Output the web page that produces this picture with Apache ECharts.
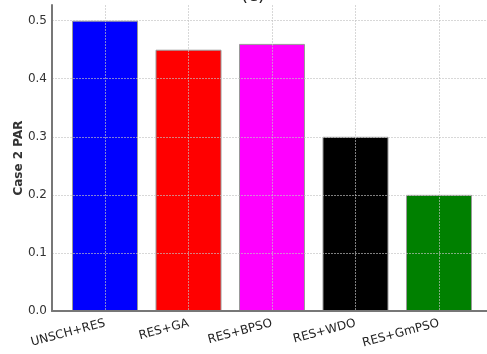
<!DOCTYPE html>
<html>
<head>
<meta charset="utf-8">
<script src="https://cdn.jsdelivr.net/npm/echarts@6/dist/echarts.min.js"></script>
<style>
html,body{margin:0;padding:0;background:#fff;}
#chart{width:487px;height:354px;}
</style>
</head>
<body>
<div id="chart"></div>
<script>
var categories = ['UNSCH+RES', 'RES+GA', 'RES+BPSO', 'RES+WDO', 'RES+GmPSO'];
var values = [0.50, 0.45, 0.46, 0.30, 0.20];
var colors = ['#0000ff', '#ff0000', '#ff00ff', '#000000', '#008000'];
var yTicks = [0.0, 0.1, 0.2, 0.3, 0.4, 0.5];
var positions = [0, 1, 2, 3, 4];

var chart = echarts.init(document.getElementById('chart'), null, {renderer: 'canvas'});

var data = values.map(function (v, i) {
  return {value: [positions[i], v], itemStyle: {color: colors[i]}};
});

var gridLine = {show: true, lineStyle: {color: 'rgba(195,195,195,0.65)', type: [2, 1], width: 1}};

chart.setOption({
  animation: false,
  backgroundColor: '#fff',
  title: {
    text: '(c)',
    left: 236,
    top: -18,
    textStyle: {fontFamily: 'DejaVu Sans', fontSize: 18, fontWeight: 'normal', color: '#222'}
  },
  grid: {left: 52, right: 0, top: 5, bottom: 43, containLabel: false},
  xAxis: {
    type: 'value',
    min: -0.635,
    max: 4.575,
    z: 5,
    axisLine: {show: true, onZero: false, lineStyle: {color: '#777', width: 2}},
    axisTick: {show: false, customValues: positions},
    axisLabel: {
      customValues: positions,
      rotate: 15,
      margin: 12,
      fontFamily: 'DejaVu Sans',
      fontSize: 12,
      color: '#222',
      formatter: function (v) { return categories[Math.round(v)]; }
    },
    splitLine: gridLine
  },
  yAxis: {
    type: 'value',
    min: 0,
    max: 0.527,
    z: 5,
    name: 'Case 2 PAR',
    nameLocation: 'middle',
    nameGap: 27,
    nameMoveOverlap: false,
    nameTextStyle: {fontFamily: 'DejaVu Sans', fontSize: 12, fontWeight: 'bold', color: '#333'},
    axisLine: {show: true, onZero: false, lineStyle: {color: '#777', width: 2}},
    axisTick: {show: false, customValues: yTicks},
    axisLabel: {
      customValues: yTicks,
      fontFamily: 'DejaVu Sans',
      fontSize: 12,
      color: '#333',
      margin: 5,
      formatter: function (v) { return v.toFixed(1); }
    },
    splitLine: gridLine
  },
  series: [{
    type: 'bar',
    barWidth: 66,
    z: 2,
    data: data,
    itemStyle: {borderColor: '#999', borderWidth: 1}
  }]
});
</script>
</body>
</html>
